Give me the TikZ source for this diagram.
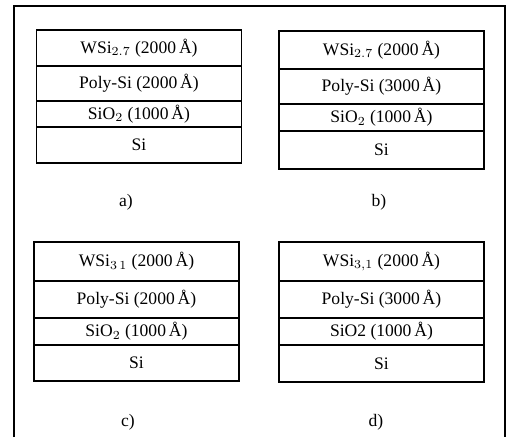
\documentclass[tikz,border=0pt]{standalone}
\usepackage{fontspec}
\setmainfont{Liberation Serif}
\tikzset{
  layer/.style={draw, line width=0.6pt, inner sep=0pt, minimum width=4.1cm, font=\fontsize{10}{12}\selectfont},
  tag/.style={font=\fontsize{10}{12}\selectfont}
}
\begin{document}
\begin{tikzpicture}[x=0.02cm, y=-0.02cm]
        \useasboundingbox (0,0) rectangle (511,437);
        % frame
        \coordinate (fbl) at (14,437);
        \coordinate (ftl) at (14,6);
        \coordinate (ftr) at (505,6);
        \coordinate (fbr) at (505,437);
        \draw[line width=0.6pt] (fbl) -- (ftl) -- (ftr) -- (fbr);
        % a)
        \node[layer, minimum height=0.72cm] (a1) at (139,48) {WSi$_{2.7}$ (2000\,Å)};
        \node[layer, minimum height=0.70cm] (a2) at (139,83.5) {Poly-Si (2000\,Å)};
        \node[layer, minimum height=0.52cm] (a3) at (139,114) {SiO$_2$ (1000\,Å)};
        \node[layer, minimum height=0.72cm] (a4) at (139,145) {Si};
        \node[tag] (la) at (126,202) {a)};
        % b)
        \node[layer, minimum height=0.76cm] (b1) at (381.5,50) {WSi$_{2.7}$ (2000\,Å)};
        \node[layer, minimum height=0.70cm] (b2) at (381.5,86.5) {Poly-Si (3000\,Å)};
        \node[layer, minimum height=0.54cm] (b3) at (381.5,117.5) {SiO$_2$ (1000\,Å)};
        \node[layer, minimum height=0.76cm] (b4) at (381.5,150) {Si};
        \node[tag] (lb) at (379,202) {b)};
        % c)
        \node[layer, minimum height=0.78cm] (c1) at (136.5,261.5) {WSi$_{3\,1}$ (2000\,Å)};
        \node[layer, minimum height=0.74cm] (c2) at (136.5,299.5) {Poly-Si (2000\,Å)};
        \node[layer, minimum height=0.54cm] (c3) at (136.5,331.5) {SiO$_2$ (1000\,Å)};
        \node[layer, minimum height=0.72cm] (c4) at (136.5,363) {Si};
        \node[tag] (lc) at (128,422) {c)};
        % d)
        \node[layer, minimum height=0.78cm] (d1) at (381.5,261.5) {WSi$_{3,1}$ (2000\,Å)};
        \node[layer, minimum height=0.74cm] (d2) at (381.5,299.5) {Poly-Si (3000\,Å)};
        \node[layer, minimum height=0.54cm] (d3) at (381.5,331.5) {SiO2 (1000\,Å)};
        \node[layer, minimum height=0.74cm] (d4) at (381.5,363.5) {Si};
        \node[tag] (ld) at (376,422) {d)};
\end{tikzpicture}
\end{document}
